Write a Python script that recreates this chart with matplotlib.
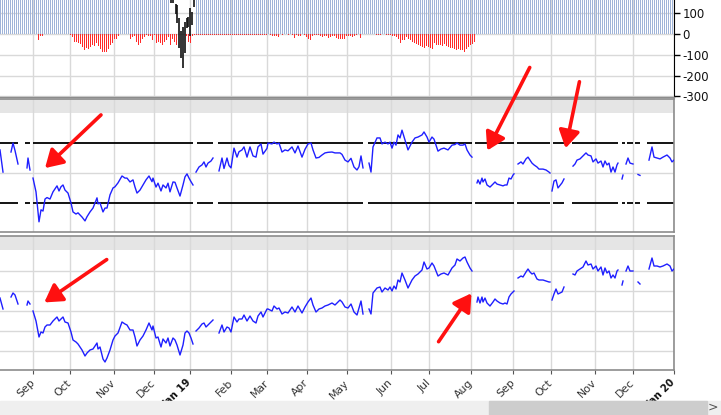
import numpy as np
import matplotlib.pyplot as plt
from matplotlib.patches import FancyArrowPatch, Rectangle

plt.rcParams['axes.unicode_minus'] = False

# session index (x) of each month start, and the labels
month_pos = [33, 70, 114, 154, 190, 231, 267, 307, 347, 391, 429, 471, 513, 551, 595, 633, 674]
month_lbl = ['Sep', 'Oct', 'Nov', 'Dec', 'Jan 19', 'Feb', 'Mar', 'Apr', 'May', 'Jun',
             'Jul', 'Aug', 'Sep', 'Oct', 'Nov', 'Dec', 'Jan 20']

# line segments (gaps between them), middle panel = oscillator, bottom panel = cumulative
seg_t = [
    [0, 3],
    [11, 13, 15, 18],
    [27, 28, 30],
    [33, 36, 39, 41, 43, 45, 47, 50, 53, 57, 59, 61, 63, 65, 68, 71, 73, 76, 78, 82,
     85, 87, 90, 93, 97, 98, 100, 103, 105, 107, 110, 113, 115, 118, 122, 125, 127, 130, 133, 135,
     137, 140, 143, 146, 149, 152, 153, 156, 158, 161, 163, 166, 168, 170, 173, 175, 177, 180, 183, 185,
     187, 189, 191, 193],
    [196, 199, 202, 204, 206, 208, 211, 213],
    [219, 222, 224, 227, 229, 231, 234, 237, 239, 242, 244, 247, 250, 253, 256, 258, 261, 263, 267, 268,
     272, 274, 277, 279, 282, 285, 288, 292, 295, 298, 302, 305, 308, 311, 313, 316, 319, 322, 325, 328,
     332, 335, 340, 342, 345, 348, 351, 354, 357, 359, 361, 363],
    [369, 371, 373, 377, 380, 382, 385, 388, 390, 392, 394, 396, 398, 400, 402, 405, 408, 412, 415, 418,
     422, 424, 427, 429, 432, 434, 438, 441, 444, 448, 452, 455, 457, 460, 463, 465, 467, 470, 472],
    [477, 478, 480, 482, 483, 485, 487, 490, 493, 495, 497, 500, 503, 505, 507, 509, 511, 513, 514],
    [518, 521, 523, 526, 528, 530, 532, 534, 537, 539, 543, 546, 549, 550],
    [552, 554, 556, 558, 562, 564],
    [573, 575, 577, 580, 583, 586, 588, 591, 593, 596, 598, 601, 603, 605, 607, 609, 611, 613, 615, 617, 618],
    [622, 623],
    [626, 628, 630, 633],
    [638, 640],
    [649, 652, 654, 657, 660, 663, 667, 670, 672, 674],
]
seg_osc = [
    [0.77, 0.03],
    [0.7, 1.0, 0.75, 0.3],
    [0.17, 0.5, 0.1],
    [-0.17, -0.63, -1.63, -1.23, -1.27, -0.87, -0.82, -0.87, -0.63, -0.43,
     -0.6, -0.46, -0.4, -0.57, -0.67, -1.0, -1.3, -1.37, -1.33, -1.47,
     -1.6, -1.46, -1.3, -1.17, -0.83, -1.03, -1.0, -1.3, -1.17, -1.17,
     -0.73, -0.5, -0.46, -0.33, -0.1, -0.17, -0.17, -0.3, -0.23, -0.47,
     -0.67, -0.57, -0.4, -0.23, -0.1, -0.29, -0.17, -0.47, -0.34, -0.6,
     -0.4, -0.5, -0.34, -0.63, -0.3, -0.31, -0.5, -0.77, -0.4, -0.13,
     -0.03, -0.17, -0.29, -0.4],
    [0.03, 0.2, 0.27, 0.37, 0.2, 0.33, 0.4, 0.5],
    [0.07, 0.5, 0.15, 0.5, 0.25, 0.17, 0.83, 0.53, 0.71, 0.77,
     0.87, 0.53, 0.87, 0.57, 0.53, 0.87, 0.97, 0.63, 0.82, 1.0,
     0.97, 1.03, 0.97, 1.0, 0.7, 0.77, 0.74, 0.87, 0.67, 0.9,
     0.53, 0.79, 0.97, 1.0, 0.77, 0.5, 0.52, 0.6, 0.67, 0.69,
     0.7, 0.67, 0.67, 0.62, 0.43, 0.37, 0.49, 0.2, 0.1, 0.21, 0.57, 0.17],
    [0.33, 0.03, 0.87, 1.17, 1.17, 0.97, 1.03, 0.97, 1.03, 0.83,
     1.03, 0.93, 1.27, 1.17, 1.43, 1.1, 0.77, 1.03, 1.17, 1.2,
     1.27, 1.37, 1.2, 1.03, 1.2, 1.13, 0.73, 0.8, 0.83, 0.77,
     0.93, 0.95, 1.0, 0.93, 0.93, 0.97, 0.77, 0.6, 0.53],
    [-0.33, -0.23, -0.37, -0.17, -0.3, -0.2, -0.4, -0.47, -0.37, -0.3,
     -0.37, -0.4, -0.43, -0.4, -0.4, -0.17, -0.2, -0.07, -0.03],
    [0.3, 0.37, 0.3, 0.47, 0.53, 0.43, 0.33, 0.27, 0.2, 0.13, 0.13, 0.1, 0.03, 0.0],
    [-0.6, -0.27, -0.23, -0.5, -0.33, -0.2],
    [0.23, 0.3, 0.43, 0.47, 0.57, 0.67, 0.6, 0.57, 0.37, 0.47,
     0.33, 0.4, 0.2, 0.4, 0.27, 0.33, 0.03, 0.2, 0.03, 0.27, 0.33],
    [-0.2, -0.07],
    [0.3, 0.5, 0.33, 0.3],
    [-0.05, -0.08],
    [0.43, 0.87, 0.53, 0.5, 0.47, 0.53, 0.6, 0.5, 0.37, 0.43],
]
seg_cum = [
    [3.65, 3.1],
    [3.7, 3.9, 3.8, 3.35],
    [3.3, 3.5, 3.35],
    [3.0, 2.5, 1.7, 1.95, 1.9, 2.2, 2.3, 2.3, 2.5, 2.7,
     2.5, 2.6, 2.7, 2.45, 2.4, 1.95, 1.55, 1.45, 1.35, 1.05,
     0.75, 0.9, 1.05, 1.1, 1.4, 1.1, 1.2, 0.6, 0.45, 0.65,
     1.05, 1.55, 1.75, 1.9, 2.45, 2.35, 2.3, 2.05, 2.05, 1.7,
     1.25, 1.55, 1.75, 2.05, 2.4, 2.05, 2.25, 1.65, 1.7, 1.2,
     1.6, 1.4, 1.65, 1.25, 1.65, 1.55, 1.3, 0.8, 1.3, 1.9,
     2.0, 1.9, 1.65, 1.35],
    [2.0, 2.15, 2.35, 2.4, 2.2, 2.3, 2.45, 2.55],
    [1.9, 2.3, 1.95, 2.2, 2.15, 1.95, 2.7, 2.45, 2.6, 2.6,
     2.8, 2.5, 2.75, 2.5, 2.4, 2.75, 2.95, 2.7, 3.1, 3.1,
     3.0, 3.25, 3.1, 3.15, 2.85, 2.95, 2.9, 3.2, 2.95, 3.25,
     2.9, 3.2, 3.45, 3.65, 3.3, 2.95, 3.1, 3.15, 3.25, 3.3,
     3.4, 3.3, 3.55, 3.45, 3.2, 3.15, 3.35, 2.95, 2.8, 3.15, 3.5, 2.85],
    [3.1, 2.85, 3.9, 4.15, 4.2, 3.95, 4.15, 4.05, 4.2, 4.0,
     4.25, 4.1, 4.55, 4.45, 4.9, 4.55, 4.15, 4.55, 4.75, 4.85,
     5.05, 5.45, 5.1, 5.15, 5.4, 5.25, 4.75, 4.85, 4.9, 4.8,
     5.15, 5.3, 5.6, 5.5, 5.65, 5.7, 5.45, 5.15, 5.0],
    [3.45, 3.7, 3.4, 3.7, 3.45, 3.65, 3.4, 3.25, 3.45, 3.6,
     3.5, 3.4, 3.35, 3.4, 3.35, 3.7, 3.85, 3.95, 4.0],
    [4.65, 4.75, 4.7, 4.95, 5.1, 4.95, 4.85, 4.9, 4.6, 4.55, 4.55, 4.5, 4.45, 4.45],
    [3.55, 3.85, 4.1, 3.85, 3.95, 4.2],
    [4.85, 4.8, 5.0, 5.1, 5.2, 5.5, 5.3, 5.35, 5.1, 5.25,
     5.0, 5.2, 4.8, 5.15, 4.9, 5.0, 4.65, 4.8, 4.65, 5.0, 5.05],
    [4.3, 4.5],
    [5.0, 5.25, 5.0, 5.0],
    [4.45, 4.35],
    [5.1, 5.65, 5.25, 5.25, 5.2, 5.25, 5.35, 5.25, 5.0, 5.1],
]

# spans where the +1 / -1 bands are defined
band_spans = [(0, 18), (25, 30), (33, 193), (197, 213), (218, 363), (368, 472), (475, 514),
              (517, 550), (553, 564), (572, 618), (622, 625), (627, 633), (635, 640), (647, 674)]

# top panel histogram: red negative bars, groups every 2 sessions from a start
red_start = [38, 70, 130, 186, 194, 270, 360, 376]
red_vals = [
    [-30, -14, -14],
    [-6, -17, -38, -38, -43, -51, -62, -78, -70, -75, -62, -54, -59, -46, -59, -75, -90, -86, -90, -75,
     -54, -43, -27, -27, -14],
    [-27, -17, -11, -38, -54, -43, -27, -17, -6, -11, -11, -30, -6, -43, -38, -43, -54, -38, -30, -17,
     -54, -27, -38, -54],
    [-14, -38, -46, -10],
    [-8, -8, -8, -8, -8, -8, -8, -8, -8, -8, -8, -8, -8, -8, -8, -8, -8, -8, -8, -8,
     -8, -8, -8, -8, -8, -8, -8, -8, -8, -8, -8, -8, -8, -8, -8, -8, -8],
    [-6, -11, -14, -11, -17, -3, -5, -2, -3, -8, -2, -6, -19, -6, -11, -14, -3, -5, -17, -27,
     -33, -14, -8, -6, -8, -11, -17, -14, -11, -22, -17, -14, -11, -21, -24, -27, -27, -24, -11, -11,
     -14, -17, -11, -5, -3],
    [-22, -3],
    [-6, -8, -5, -2, -2, -5, -8, -8, -11, -14, -17, -27, -46, -33, -30, -17, -27, -30, -38, -43,
     -49, -54, -59, -62, -70, -59, -62, -70, -75, -46, -54, -54, -54, -59, -49, -59, -62, -70, -70, -75,
     -78, -75, -78, -78, -86, -75, -62, -54, -49, -40],
]
# black range bars around the turn of the year
blk_t = [171, 173, 176, 177, 179, 181, 183, 185, 187, 188, 190, 192, 194]
blk_hi = [200, 200, 141, 136, 73, 10, 33, 57, 73, 81, 121, 105, 200]
blk_lo = [148, 144, 94, 49, -70, -117, -165, -94, 25, 33, -14, 41, 125]
blue_top = 300  # blue bars run off the top of the scale

# red arrows drawn over the figure (pixels, tail -> head)
arrows = [((103, 113), (43, 170)), ((531, 65), (486, 153)), ((580, 79), (565, 151)),
          ((109, 258), (42, 304)), ((437, 344), (473, 291))]

W, H = 721, 415
GRID = '#d9d9d9'
EDGE = '#8c8c8c'
fig = plt.figure(figsize=(W / 100, H / 100), dpi=100)


def px_axes(top, bottom, right=674):
    return fig.add_axes([0, 1 - bottom / H, right / W, (bottom - top) / H])


ax1 = px_axes(0, 96.7)
ax2 = px_axes(99, 232)
ax3 = px_axes(236, 370)

for ax in (ax1, ax2, ax3):
    ax.set_xlim(0, 674)
    ax.set_xticks(month_pos)
    ax.set_axisbelow(True)
    ax.grid(True, color=GRID, lw=1)
    ax.spines['left'].set_visible(False)

# --- top panel (1 px wide bars, one per session)
blue_t = np.array([t for t in range(0, 675, 2) if not 169 < t < 195])
ax1.bar(blue_t, blue_top, width=1.0, align='edge', color='#9fb3d8', linewidth=0, zorder=1)
red_t, red_v = [], []
for s, vals in zip(red_start, red_vals):
    red_t += list(s + 2 * np.arange(len(vals)))
    red_v += vals
ax1.bar(red_t, red_v, width=1.0, align='edge', color='#ff2b2b', linewidth=0, zorder=2)
ax1.vlines(blk_t, blk_lo, blk_hi, color='#111111', lw=1.2, zorder=3)
ax1.set_ylim(-301, 160)
ax1.set_yticks([100, 0, -100, -200, -300])
ax1.yaxis.tick_right()
ax1.tick_params(axis='y', length=4, width=1, labelsize=8.5, pad=2, labelcolor='#111')
ax1.tick_params(axis='x', length=0, labelbottom=False)
ax1.spines['top'].set_visible(False)
ax1.spines['right'].set_color('black')
ax1.spines['bottom'].set_color(EDGE)
ax1.spines['bottom'].set_linewidth(1.0)

# --- middle panel
ax2.axhspan(2.0, 2.6, color='#e5e5e5', lw=0, zorder=0)
for a, b in band_spans:
    ax2.hlines([1, -1], a, b, color='black', lw=1.3, zorder=2)
for t, v in zip(seg_t, seg_osc):
    ax2.plot(t, v, color='#1f1fff', lw=1, zorder=3)
ax2.set_ylim(-1.97, 2.47)
ax2.set_yticks([0])

# --- bottom panel
ax3.axhspan(6.05, 7, color='#e5e5e5', lw=0, zorder=0)
for t, v in zip(seg_t, seg_cum):
    ax3.plot(t, v, color='#1f1fff', lw=1, zorder=3)
ax3.set_ylim(0.05, 6.75)
ax3.set_yticks([1, 2, 3, 4, 5])

for ax in (ax2, ax3):
    ax.tick_params(axis='y', length=0, labelleft=False)
    for side in ('top', 'bottom', 'right'):
        ax.spines[side].set_color(EDGE)
        ax.spines[side].set_linewidth(1.2)
ax2.tick_params(axis='x', length=0, labelbottom=False)

ax3.set_xticklabels(month_lbl, rotation=45, ha='right', va='center', rotation_mode='anchor',
                    fontsize=7.8, color='#333333')
for lbl in ax3.get_xticklabels():
    if lbl.get_text().startswith('Jan'):
        lbl.set_fontweight('bold')
        lbl.set_fontsize(7.2)
        lbl.set_color('#111111')
ax3.tick_params(axis='x', length=3, color='#555555', pad=5)

# scroll bar strip at the bottom (drawn over the labels, as in the screen)
fig.add_artist(Rectangle((0, 0), 1, 14.5 / H, transform=fig.transFigure, color='#efefef', zorder=5))
fig.add_artist(Rectangle((489 / W, 0), 218 / W, 14.5 / H, transform=fig.transFigure,
                         color='#cdcdcd', zorder=6))
fig.text(713 / W, 7.5 / H, '>', ha='center', va='center', fontsize=9, color='#555555', zorder=7)

for (x0, y0), (x1, y1) in arrows:
    fig.add_artist(FancyArrowPatch((x0 / W, 1 - y0 / H), (x1 / W, 1 - y1 / H),
                                   transform=fig.transFigure,
                                   arrowstyle='-|>,head_length=0.75,head_width=0.45',
                                   mutation_scale=14, lw=2.6, color='#ff1010', zorder=10))

fig.savefig('out.png', dpi=100)
